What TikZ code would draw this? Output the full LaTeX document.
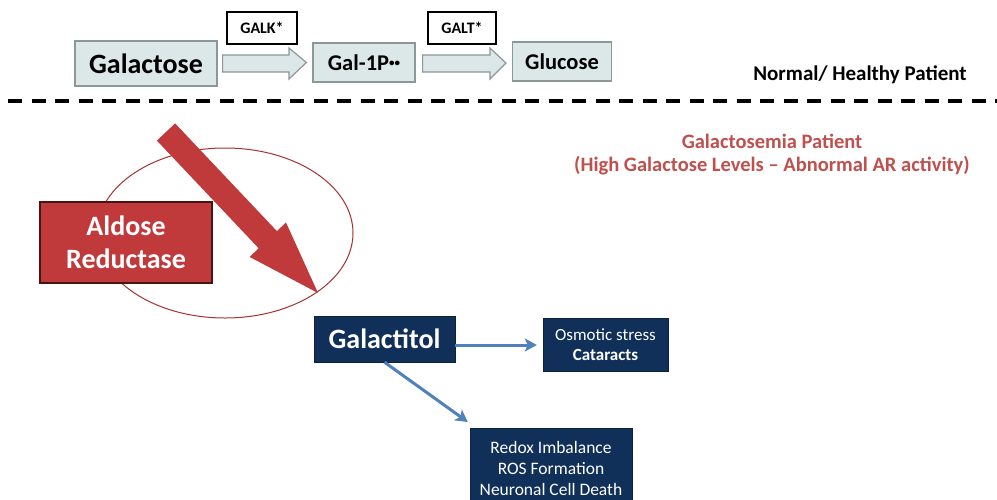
\documentclass[tikz,border=0pt]{standalone}
\usepackage{fontspec}
\setmainfont{Carlito}
\usetikzlibrary{arrows.meta,calc}
\definecolor{lbfill}{HTML}{DCE8E8}
\definecolor{lbdraw}{HTML}{8C9898}
\definecolor{arred}{HTML}{C0393B}
\definecolor{ardark}{HTML}{4A1414}
\definecolor{navy}{HTML}{10305A}
\definecolor{arrblue}{HTML}{4F81BD}
\definecolor{txtred}{HTML}{C0504D}
\definecolor{ellred}{HTML}{A83232}
\begin{document}
\begin{tikzpicture}[x=1pt,y=-1pt,
  lightbox/.style={draw=lbdraw,fill=lbfill,line width=1.2pt,inner sep=0pt,font=\bfseries},
  enzbox/.style={draw=black,fill=white,line width=1.5pt,inner sep=0pt,font=\bfseries\fontsize{16}{19}\selectfont},
  navybox/.style={draw=navy!70!black,fill=navy,text=white,inner sep=0pt,align=center},
  hollow/.style={draw=lbdraw,fill=lbfill,line width=1.2pt,line join=miter},
  bluearr/.style={draw=arrblue,line width=3pt,-{Stealth[length=12pt,width=13pt,inset=3pt]}},
  dashline/.style={line width=4pt,dash pattern=on 14pt off 9.5pt},
]
\clip (0,0) rectangle (997,499);
\fill[white] (0,0) rectangle (997,499);

% top pathway
\node[lightbox,minimum width=142,minimum height=45,font=\bfseries\fontsize{28}{33}\selectfont] (galactose) at (146,63.5) {Galactose};
\node[lightbox,minimum width=102,minimum height=39,font=\bfseries\fontsize{22.5}{27}\selectfont] (gal1p) at (364,62.5) {Gal-1P\raisebox{3.5pt}{\fontsize{11}{13}\selectfont ••}};
\node[lightbox,minimum width=99,minimum height=39,font=\bfseries\fontsize{22.5}{27}\selectfont] (glucose) at (562,61.5) {Glucose};
\node[enzbox,minimum width=70,minimum height=32] (galk) at (262,28) {GALK*};
\node[enzbox,minimum width=68,minimum height=32] (galt) at (462,28) {GALT*};

\draw[hollow] ($(galactose.east)+(5,-8.5)$) -- (289,55) -- (289,48) -- ($(gal1p.west)+(-6,0)$) -- (289,79) -- (289,72) -- ($(galactose.east)+(5,8.5)$) -- cycle;
\draw[hollow] ($(gal1p.east)+(7,-7.5)$) -- (490,55) -- (490,48) -- ($(glucose.west)+(-6,1.5)$) -- (490,79) -- (490,72) -- ($(gal1p.east)+(7,9.5)$) -- cycle;

\node[font=\bfseries\fontsize{21}{25}\selectfont] (normal) at (860,75) {Normal/ Healthy Patient};

% divider
\coordinate (dl) at (8,101);
\coordinate (dr) at (997,101);
\draw[dashline] (dl) -- (dr);

\node[text=txtred,font=\bfseries\fontsize{20.5}{23}\selectfont,align=center] (galpat) at (772,155) {Galactosemia Patient\\(High Galactose Levels – Abnormal AR activity)};

% aldose reductase
\draw[ellred,line width=1pt] (225,233) ellipse [x radius=128, y radius=85];
\node[draw=ardark,line width=2pt,fill=arred,text=white,align=center,inner sep=0pt,minimum width=172,minimum height=81,font=\bfseries\fontsize{28}{33}\selectfont] (aldose) at (126,242.5) {Aldose\\Reductase};
\fill[arred] (175.1,123.4) -- (276.9,231.1) -- (286.0,222.5) -- (318,293) -- (249.6,256.9) -- (258.7,248.3) -- (156.9,140.6) -- cycle;

% galactitol and effects
\node[navybox,minimum width=141,minimum height=46,font=\bfseries\fontsize{28}{33}\selectfont] (galactitol) at (384.5,339) {Galactitol};
\node[navybox,minimum width=125,minimum height=53,font=\fontsize{17}{20.5}\selectfont] (osmotic) at (605.5,344.5) {Osmotic stress\\\textbf{Cataracts}};
\node[navybox,minimum width=162,minimum height=80,anchor=north,font=\fontsize{17.5}{21}\selectfont] (redox) at (551,428) {Redox Imbalance\\ROS Formation\\Neuronal Cell Death};

\draw[bluearr] ([yshift=-6pt]galactitol.east) -- ([xshift=-6pt,yshift=-0.5pt]osmotic.west);
\draw[bluearr] (galactitol.south) -- ([shift={(-2pt,6pt)}]redox.north west);
\end{tikzpicture}
\end{document}
